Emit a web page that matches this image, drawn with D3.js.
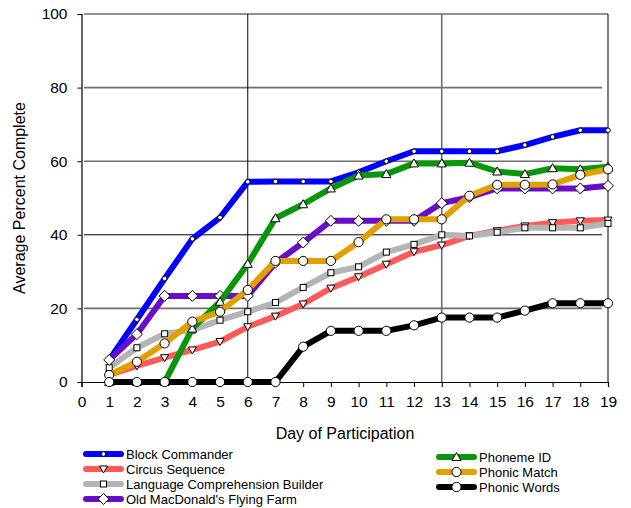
<!DOCTYPE html>
<html>
<head>
<meta charset="utf-8">
<script src="https://cdn.jsdelivr.net/npm/d3@7"></script>
<style>
  body { margin: 0; background: #fff; }
  svg { display: block; font-family: "Liberation Sans", Arial, sans-serif; }
</style>
</head>
<body>
<svg id="chart" width="631" height="508"></svg>
<script>
// Days of participation (x axis)
const days = d3.range(1, 20);
const xTicks = d3.range(0, 20);
const yTicks = [0, 20, 40, 60, 80, 100];

// Average percent complete per program, days 1..19
const blockCommander = [6.0, 17.0, 28.1, 38.9, 44.7, 54.4, 54.5, 54.5, 54.5, 57.0, 60.0, 62.7, 62.7, 62.7, 62.7, 64.4, 66.6, 68.4, 68.4];
const circusSequence = [1.9, 4.4, 6.6, 8.7, 11.0, 15.0, 17.9, 21.2, 25.5, 28.6, 32.0, 35.4, 37.2, 39.7, 41.1, 42.4, 43.3, 43.8, 44.0];
const languageBuilder = [3.9, 9.3, 13.1, 14.1, 16.8, 19.1, 21.6, 25.7, 29.7, 31.3, 35.3, 37.4, 40.0, 39.7, 40.7, 41.9, 41.9, 41.9, 43.1];
const oldMacDonald = [6.0, 13.0, 23.4, 23.4, 23.4, 23.4, 32.4, 37.9, 43.8, 43.8, 43.8, 43.8, 48.6, 50.2, 52.6, 52.6, 52.6, 52.6, 53.3];
const phonemeId = [0, 0, 0, 14.5, 21.8, 32.1, 44.5, 48.3, 52.6, 56.1, 56.5, 59.4, 59.4, 59.6, 57.2, 56.5, 58.1, 57.8, 58.5];
const phonicMatch = [1.9, 5.5, 10.5, 16.4, 19.1, 25.0, 32.9, 32.9, 32.9, 38.0, 44.2, 44.2, 44.2, 50.6, 53.6, 53.6, 53.7, 56.3, 57.8];
const phonicWords = [0, 0, 0, 0, 0, 0, 0, 9.6, 13.9, 13.9, 13.9, 15.4, 17.5, 17.5, 17.5, 19.4, 21.4, 21.4, 21.4];

const seriesNames = ["Block Commander", "Circus Sequence", "Language Comprehension Builder", "Old MacDonald's Flying Farm", "Phoneme ID", "Phonic Match", "Phonic Words"];
const seriesValues = [blockCommander, circusSequence, languageBuilder, oldMacDonald, phonemeId, phonicMatch, phonicWords];
const seriesColors = ["#0000ff", "#ff5a5a", "#b4b4b4", "#6a0dc8", "#0a960a", "#e0a000", "#000000"];
const seriesMarkers = ["smallCircle", "triangleDown", "square", "diamond", "triangleUp", "circle", "circle"];

const svg = d3.select("#chart");
const x = d3.scaleLinear().domain([0, 19]).range([81.5, 608]);
const y = d3.scaleLinear().domain([0, 100]).range([382, 14]);

// Horizontal gridlines
const grid = svg.append("g");
grid.selectAll("line.h").data(yTicks.filter(v => v > 0)).join("line")
  .attr("x1", 84).attr("x2", v => v === 100 ? 608 : 602)
  .attr("y1", v => y(v)).attr("y2", v => y(v))
  .attr("stroke", v => v === 40 ? "#000" : "#6e6e6e")
  .attr("stroke-width", v => v === 40 ? 1 : 1.6);

// Vertical reference lines at days 6 and 13
grid.selectAll("line.v").data([6, 13]).join("line")
  .attr("x1", d => x(d)).attr("x2", d => x(d))
  .attr("y1", y(100)).attr("y2", y(0))
  .attr("stroke", d => d === 6 ? "#000" : "#6e6e6e")
  .attr("stroke-width", d => d === 6 ? 1 : 1.6);

// Right frame edge
svg.append("line").attr("x1", 608).attr("x2", 608).attr("y1", y(100)).attr("y2", y(0))
  .attr("stroke", "#000").attr("stroke-width", 1);

// Axes
const yAxis = d3.axisLeft(y).tickValues(yTicks).tickSize(4).tickPadding(10);
const xAxis = d3.axisBottom(x).tickValues(xTicks).tickSize(5).tickPadding(8).tickFormat(d3.format("d"));

const gy = svg.append("g").attr("transform", "translate(81.5,0)").call(yAxis);
const gx = svg.append("g").attr("transform", `translate(0,${y(0)})`).call(xAxis);
[gy, gx].forEach(g => {
  g.select(".domain").attr("stroke", "#000").attr("stroke-width", 1.2);
  g.selectAll(".tick line").attr("stroke", "#000");
  g.selectAll(".tick text").attr("fill", "#000").style("font-size", "15.5px")
    .style("font-family", '"Liberation Sans", Arial, sans-serif');
});
gx.selectAll(".tick text").attr("dy", "0.75em");

// Axis titles
svg.append("text").attr("x", 345).attr("y", 439).attr("text-anchor", "middle")
  .style("font-size", "16px").text("Day of Participation");
svg.append("text").attr("transform", "translate(25,198) rotate(-90)").attr("text-anchor", "middle")
  .style("font-size", "16px").text("Average Percent Complete");

// Marker shapes
function drawMarker(g, type, cx, cy) {
  let el;
  if (type === "smallCircle") {
    el = g.append("circle").attr("cx", cx).attr("cy", cy).attr("r", 2.3);
  } else if (type === "circle") {
    el = g.append("circle").attr("cx", cx).attr("cy", cy).attr("r", 4.6);
  } else if (type === "square") {
    el = g.append("rect").attr("x", cx - 3).attr("y", cy - 3).attr("width", 6).attr("height", 6);
  } else if (type === "diamond") {
    el = g.append("path").attr("d", `M${cx},${cy - 5.5}L${cx + 5.5},${cy}L${cx},${cy + 5.5}L${cx - 5.5},${cy}Z`);
  } else if (type === "triangleUp") {
    el = g.append("path").attr("d", `M${cx},${cy - 4.5}L${cx + 4.5},${cy + 3.5}L${cx - 4.5},${cy + 3.5}Z`);
  } else if (type === "triangleDown") {
    el = g.append("path").attr("d", `M${cx},${cy + 4}L${cx + 4},${cy - 3}L${cx - 4},${cy - 3}Z`);
  }
  el.attr("fill", "#fff").attr("stroke", "#000").attr("stroke-width", 1);
}

// Series lines with markers
const line = d3.line().x((d, i) => x(days[i])).y(d => y(d));
seriesValues.forEach((vals, k) => {
  const g = svg.append("g");
  g.append("path").datum(vals).attr("d", line)
    .attr("fill", "none").attr("stroke", seriesColors[k]).attr("stroke-width", 6)
    .attr("stroke-linejoin", "round");
  vals.forEach((v, i) => drawMarker(g, seriesMarkers[k], x(days[i]), y(v)));
});

// Legend: two columns
const legendPos = [
  [86, 454], [86, 469], [86, 484], [86, 499],
  [439, 457], [439, 472], [439, 487]
];
seriesNames.forEach((name, k) => {
  const [lx, ly] = legendPos[k];
  const g = svg.append("g");
  g.append("line").attr("x1", lx).attr("x2", lx + 35).attr("y1", ly).attr("y2", ly)
    .attr("stroke", seriesColors[k]).attr("stroke-width", 6).attr("stroke-linecap", "round");
  drawMarker(g, seriesMarkers[k], lx + 17.5, ly);
  g.append("text").attr("x", lx + 40).attr("y", ly).attr("dy", "0.36em")
    .style("font-size", "13px").text(name);
});
</script>
</body>
</html>
